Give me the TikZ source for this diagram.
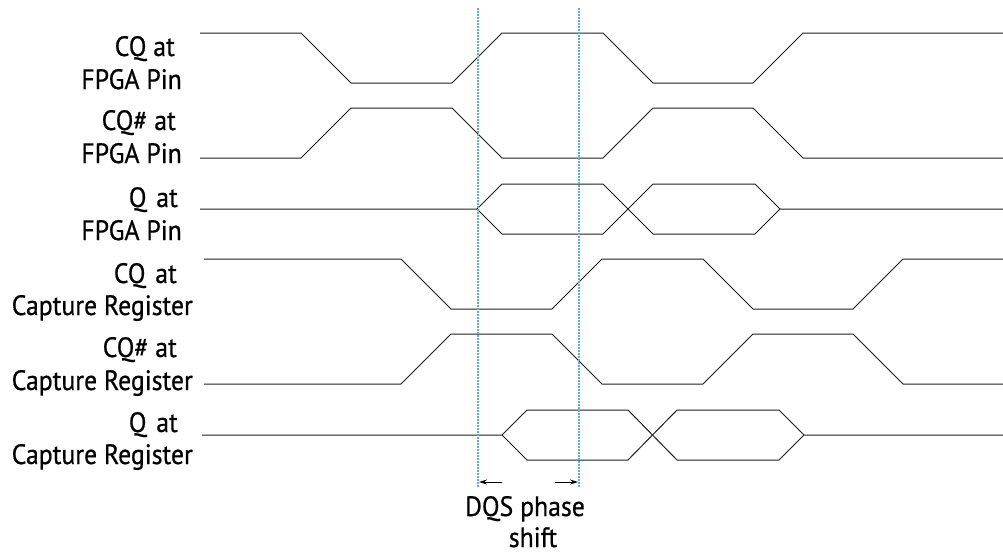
\documentclass[tikz,border=0pt]{standalone}
\usepackage{fontspec}
\setmainfont{PT Sans}[FakeStretch=0.92,FakeBold=0.6]
\usetikzlibrary{arrows.meta}
\definecolor{wavecol}{RGB}{30,30,30}
\definecolor{guidecol}{RGB}{95,170,215}
\begin{document}
\begin{tikzpicture}[x=1pt,y=-1pt,
  wave/.style={line width=1pt, draw=wavecol, line join=miter},
  guide/.style={line width=1.3pt, draw=guidecol, dash pattern=on 1.5pt off 1.5pt},
  shiftarr/.style={line width=1pt, -{Stealth[length=8pt,width=5pt]}},
  lbl/.style={font=\fontsize{28}{33}\selectfont, inner sep=0pt, anchor=base east},
  note/.style={font=\fontsize{28}{33}\selectfont, inner sep=0pt, anchor=base}]
\useasboundingbox (0,0) rectangle (1003,554);

% labels
\node[lbl] (l1a) at (175,56) {CQ at};
\node[lbl] (l1b) at (182,89) {FPGA Pin};
\node[lbl] (l2a) at (176,130) {CQ\# at};
\node[lbl] (l2b) at (182,163) {FPGA Pin};
\node[lbl] (l3a) at (178,207) {Q\hspace{0.35em}at};
\node[lbl] (l3b) at (182,240) {FPGA Pin};
\node[lbl] (l4a) at (177,283) {CQ\hspace{0.35em}at};
\node[lbl] (l4b) at (193,315) {Capture Register};
\node[lbl] (l5a) at (177,357) {CQ\# at};
\node[lbl] (l5b) at (193,390) {Capture Register};
\node[lbl] (l6a) at (178,432) {Q\hspace{0.35em}at};
\node[lbl] (l6b) at (193,464) {Capture Register};

% waveforms
\draw[wave] (200,33) -- (301,33) -- (351,83) -- (452,83) -- (502,33) -- (603,33) -- (653,83) -- (753,83) -- (803,33) -- (1003,33);
\draw[wave] (200,158) -- (301,158) -- (351,108) -- (452,108) -- (502,158) -- (603,158) -- (653,108) -- (753,108) -- (803,158) -- (1003,158);
\draw[wave] (200,209) -- (477,209) -- (502,184) -- (603,184) -- (653,234) -- (755,234) -- (780,209) -- (1003,209);
\draw[wave] (477,209) -- (502,234) -- (603,234) -- (653,184) -- (755,184) -- (780,209);
\draw[wave] (204,259) -- (401,259) -- (451,309) -- (552,309) -- (602,259) -- (703,259) -- (753,309) -- (853,309) -- (903,259) -- (1003,259);
\draw[wave] (204,384) -- (401,384) -- (451,334) -- (552,334) -- (602,384) -- (703,384) -- (753,334) -- (853,334) -- (903,384) -- (1003,384);
\draw[wave] (202,435) -- (502,435) -- (527,410) -- (628,410) -- (677,460) -- (779,460) -- (804,435) -- (1003,435);
\draw[wave] (502,435) -- (527,460) -- (628,460) -- (677,410) -- (779,410) -- (804,435);

% guides
\coordinate (g1t) at (478,8);
\coordinate (g1b) at (478,487);
\coordinate (g2t) at (579,8);
\coordinate (g2b) at (579,487);
\draw[guide] (g1t) -- (g1b);
\draw[guide] (g2t) -- (g2b);

% phase shift arrows
\coordinate (a1s) at (502,482);
\coordinate (a1e) at (479,482);
\coordinate (a2s) at (555,482);
\coordinate (a2e) at (578,482);
\draw[shiftarr] (a1s) -- (a1e);
\draw[shiftarr] (a2s) -- (a2e);

\node[note] (dqs) at (525,516) {DQS phase};
\node[note] (shf) at (533,547) {shift};
\end{tikzpicture}
\end{document}
